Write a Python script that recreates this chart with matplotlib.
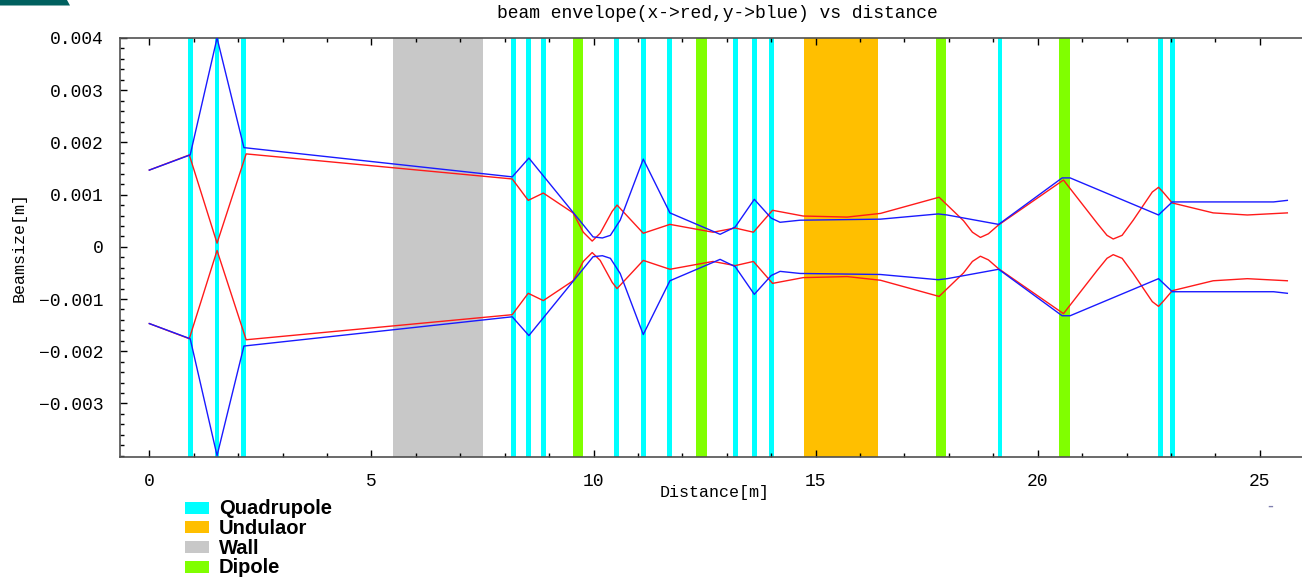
import matplotlib
matplotlib.use("Agg")
import matplotlib.pyplot as plt
from matplotlib.patches import Rectangle, Polygon
from matplotlib.ticker import MultipleLocator, FixedLocator, FuncFormatter

# lattice elements [m]
quad_pos = [0.92, 1.525, 2.12, 8.19, 8.545, 8.88, 10.52, 11.12, 11.72,
            13.20, 13.62, 14.00, 19.15, 22.76, 23.03]
quad_w = 0.11
dipole_pos = [9.65, 12.43, 17.82, 20.61]
dipole_w = 0.24
wall = (5.48, 7.51)
undulator = (14.73, 16.41)

# beam envelope, x plane (red), in mm
sx_s = [0.0, 0.90, 1.525, 2.18, 8.17, 8.53, 8.87, 9.54, 9.77, 9.97, 10.15,
        10.42, 10.53, 11.12, 11.72, 12.69, 13.19, 13.60, 14.03, 14.72, 15.71,
        16.46, 17.78, 18.33, 18.53, 18.71, 18.89, 19.12, 20.58, 21.34, 21.56,
        21.70, 21.90, 22.15, 22.58, 22.72, 22.82, 23.03, 23.95, 24.72, 25.62]
sx = [1.47, 1.76, 0.07, 1.78, 1.30, 0.89, 1.03, 0.65, 0.28, 0.11, 0.26,
      0.68, 0.80, 0.26, 0.43, 0.28, 0.36, 0.28, 0.70, 0.59, 0.57,
      0.64, 0.95, 0.50, 0.28, 0.18, 0.25, 0.42, 1.28, 0.45, 0.22,
      0.15, 0.22, 0.51, 1.05, 1.14, 1.05, 0.84, 0.65, 0.61, 0.65]

# beam envelope, y plane (blue), in mm
sy_s = [0.0, 0.92, 1.525, 2.13, 8.17, 8.545, 9.99, 10.20, 10.38, 10.60, 11.12,
        11.72, 12.85, 13.19, 13.62, 14.00, 14.20, 14.65, 16.46, 17.76, 17.96,
        19.12, 20.55, 20.73, 22.72, 23.03, 25.31, 25.62]
sy = [1.47, 1.76, 4.00, 1.90, 1.34, 1.70, 0.19, 0.17, 0.22, 0.51, 1.68,
      0.65, 0.24, 0.38, 0.91, 0.55, 0.47, 0.51, 0.53, 0.63, 0.61,
      0.43, 1.32, 1.32, 0.61, 0.86, 0.86, 0.89]

yticks = [-0.003, -0.002, -0.001, 0.0, 0.001, 0.002, 0.003, 0.004]

legend_labels = ["Quadrupole", "Undulaor", "Wall", "Dipole"]
legend_colors = ["#00ffff", "#ffbf00", "#c8c8c8", "#80ff00"]

mono = "Liberation Mono"

fig = plt.figure(figsize=(13.02, 5.8), dpi=100)
ax = fig.add_axes([120 / 1302, 123.3 / 580, 1182 / 1302, 418.7 / 580])

for p in quad_pos:
    ax.axvspan(p - quad_w / 2, p + quad_w / 2, color=legend_colors[0], lw=0, zorder=1)
for p in dipole_pos:
    ax.axvspan(p - dipole_w / 2, p + dipole_w / 2, color=legend_colors[3], lw=0, zorder=1)
ax.axvspan(*wall, color=legend_colors[2], lw=0, zorder=1)
ax.axvspan(*undulator, color=legend_colors[1], lw=0, zorder=1)

sx_m = [v * 1e-3 for v in sx]
sy_m = [v * 1e-3 for v in sy]
ax.plot(sx_s, sx_m, color="#ff1a1a", lw=1.0, zorder=3)
ax.plot(sx_s, [-v for v in sx_m], color="#ff1a1a", lw=1.0, zorder=3)
ax.plot(sy_s, sy_m, color="#1a1aff", lw=1.0, zorder=3)
ax.plot(sy_s, [-v for v in sy_m], color="#1a1aff", lw=1.0, zorder=3)

ax.set_xlim(-0.66, 25.95)
ax.set_ylim(-0.00402, 0.004)

ax.xaxis.set_major_locator(MultipleLocator(5))
ax.xaxis.set_minor_locator(MultipleLocator(1))
ax.yaxis.set_major_locator(FixedLocator(yticks))
ax.yaxis.set_minor_locator(MultipleLocator(0.0002))
ax.yaxis.set_major_formatter(FuncFormatter(
    lambda v, pos: "0" if abs(v) < 1e-9 else f"{v:.3f}".replace("-", "\u2212")))

ax.tick_params(which="both", direction="in", top=True, right=False,
               labelsize=13, pad=12, color="black")
ax.tick_params(which="major", length=5, width=1)
ax.tick_params(which="minor", length=3, width=1)
for lab in ax.get_xticklabels() + ax.get_yticklabels():
    lab.set_family(mono)

for s in ["left", "bottom", "top"]:
    ax.spines[s].set_color("#505050")
    ax.spines[s].set_linewidth(1.2)
ax.spines["right"].set_visible(False)

ax.set_xlabel("Distance[m]", family=mono, fontsize=12)
ax.xaxis.set_label_coords(0.503, -0.068)
ax.set_ylabel("Beamsize[m]", family=mono, fontsize=12)
ax.yaxis.set_label_coords(-0.079, 0.5)

fig.text(717.5 / 1302, 1 - 13 / 580, "beam envelope(x->red,y->blue) vs distance",
         family=mono, fontsize=13, ha="center", va="center")

# legend drawn by hand (tight row spacing)
for i, (lab, col) in enumerate(zip(legend_labels, legend_colors)):
    yc = 580 - (507.5 + 19.8 * i)
    fig.patches.append(Rectangle((185 / 1302, (yc - 6) / 580), 24 / 1302, 12 / 580,
                                 transform=fig.transFigure, color=col, lw=0))
    fig.text(219 / 1302, (yc - 6.5) / 580, lab, family="Liberation Sans",
             weight="bold", fontsize=14.5, ha="left", va="baseline")

# small decorations from the slide
fig.patches.append(Polygon([(0, 1), (67 / 1302, 1), (70 / 1302, 1 - 5.5 / 580), (0, 1 - 5.5 / 580)],
                           closed=True, transform=fig.transFigure, color="#00605f", lw=0))
fig.text(1270 / 1302, 1 - 506 / 580, "-", color="#8080b0", fontsize=12, ha="center", va="center")

fig.savefig("out.png", dpi=100)
